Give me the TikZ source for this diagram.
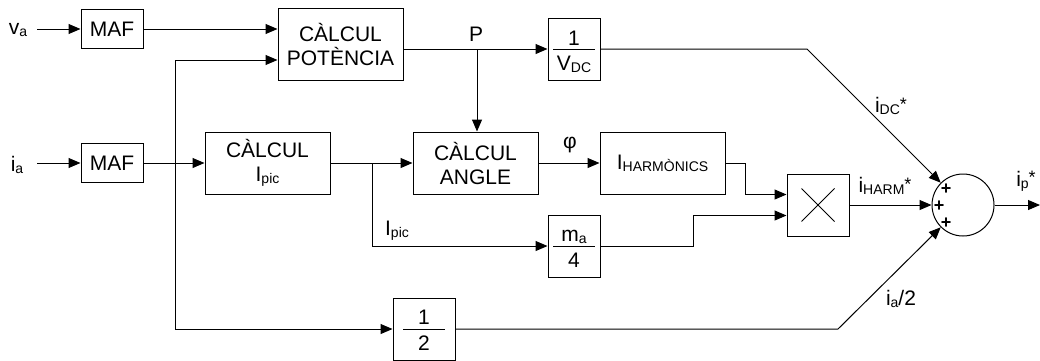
\documentclass[tikz,border=0pt]{standalone}
\usepackage{fontspec}
\setmainfont{Liberation Sans}
\usetikzlibrary{arrows.meta,calc}
\newcommand\bigf{\fontsize{21}{24}\selectfont}
\newcommand\sbs[1]{\raisebox{-2pt}{\fontsize{14}{14}\selectfont #1}}
\newcommand\sps[1]{\raisebox{2.5pt}{\fontsize{18}{18}\selectfont #1}}
\begin{document}
\begin{tikzpicture}[x=1pt,y=-1pt,
 blk/.style={draw,line width=1pt,inner sep=0pt,align=center,font=\bigf},
 lbl/.style={inner sep=0pt,font=\bigf},
 plus/.style={inner sep=0pt,font=\fontsize{18}{18}\selectfont\bfseries},
 conn/.style={line width=1pt},
 arr/.style={conn,-{Triangle[length=12pt,width=10pt]}},
]
\useasboundingbox (0,0) rectangle (1040,360);
% blocks
\node[blk,minimum width=62pt,minimum height=39pt] (maf1) at (112,29) {MAF};
\node[blk,minimum width=62pt,minimum height=39pt] (maf2) at (112,163) {MAF};
\node[blk,minimum width=125pt,minimum height=72pt] (pot) at (340.5,44) {CÀLCUL\\POTÈNCIA};
\node[blk,minimum width=52pt,minimum height=62pt] (vdc) at (574,49) {};
\node[blk,minimum width=125pt,minimum height=62pt] (ipic) at (267.5,163) {CÀLCUL\\I\sbs{pic}};
\node[blk,minimum width=125pt,minimum height=62pt] (angle) at (475.5,163) {CÀLCUL\\ANGLE};
\node[blk,minimum width=125pt,minimum height=62pt] (harm) at (662.5,163) {I\sbs{HARMÒNICS}};
\node[blk,minimum width=52pt,minimum height=62pt] (ma4) at (574,246) {};
\node[blk,minimum width=62pt,minimum height=62pt] (mult) at (818,205) {};
\node[blk,minimum width=62pt,minimum height=62pt] (half) at (424,329) {};
\node[draw,circle,minimum size=62pt,inner sep=0pt,line width=1pt] (sum) at (963,205) {};
% fractions
\node[lbl,anchor=base] (vdcn) at (574,45) {1};
\node[lbl,anchor=base] (vdcd) at (574,70) {V\sbs{DC}};
\draw[conn] ($(vdc.center)+(-21,0)$) -- ($(vdc.center)+(21,0)$);
\node[lbl,anchor=base] (ma4n) at (574,241.5) {m\sbs{a}};
\node[lbl,anchor=base] (ma4d) at (574,267) {4};
\draw[conn] ($(ma4.center)+(-21,0)$) -- ($(ma4.center)+(21,0)$);
\node[lbl,anchor=base] (halfn) at (424,324) {1};
\node[lbl,anchor=base] (halfd) at (424,350) {2};
\draw[conn] ($(half.center)+(-21,0)$) -- ($(half.center)+(21,0)$);
% multiplier cross
\draw[line width=0.8pt] ($(mult.center)+(-16.5,-16.5)$) -- ($(mult.center)+(16.5,16.5)$);
\draw[line width=0.8pt] ($(mult.center)+(-16.5,16.5)$) -- ($(mult.center)+(16.5,-16.5)$);
% plus signs
\node[plus] (p1) at (946,189) {+};
\node[plus] (p2) at (939,206) {+};
\node[plus] (p3) at (946,223) {+};
% labels
\node[lbl] (va) at (18,30) {v\sbs{a}};
\node[lbl] (ia) at (17,165) {i\sbs{a}};
\node[lbl] (pl) at (476,34) {P};
\node[lbl] (phil) at (570,145) {φ};
\node[lbl] (ipicl) at (397,231) {I\sbs{pic}};
\node[lbl] (iharml) at (885,186) {i\sbs{HARM}\sps{*}};
\node[lbl] (idcl) at (891,106) {i\sbs{DC}\sps{*}};
\node[lbl] (ipl) at (1026,181) {i\sbs{p}\sps{*}};
\node[lbl] (ia2l) at (901,299) {i\sbs{a}/2};
% coordinates
\coordinate (vas) at (37,29);
\coordinate (ias) at (37,163);
\coordinate (b1) at (175,163);
\coordinate (b2) at (372,163);
\coordinate (b3) at (477,49);
\coordinate (k1) at (807,49);
\coordinate (k2) at (838,329);
\coordinate (out) at (1040,205);
% connectors
\draw[arr] (vas) -- (maf1.west);
\draw[arr] (ias) -- (maf2.west);
\draw[arr] (maf1.east) -- (maf1.east -| pot.west);
\draw[arr] (maf2.east) -- (ipic.west);
\draw[arr] (b1) |- ([yshift=-16pt]pot.west);
\draw[arr] (b1) |- (half.west);
\draw[arr] ([yshift=-5pt]pot.east) -- (vdc.west);
\draw[arr] (b3) -- (b3 |- angle.north);
\draw[arr] (ipic.east) -- (angle.west);
\draw[arr] (b2) |- (ma4.west);
\draw[arr] (angle.east) -- (harm.west);
\draw[arr] (harm.east) -- ++(20,0) |- ([yshift=10.5pt]mult.west);
\draw[arr] (ma4.east) -- ++(93,0) |- ([yshift=-10.5pt]mult.west);
\draw[arr] (mult.east) -- (sum.west);
\draw[arr] (vdc.east) -- (k1) -- (sum.135);
\draw[arr] (half.east) -- (k2) -- (sum.225);
\draw[arr] (sum.east) -- (out);
\end{tikzpicture}
\end{document}
